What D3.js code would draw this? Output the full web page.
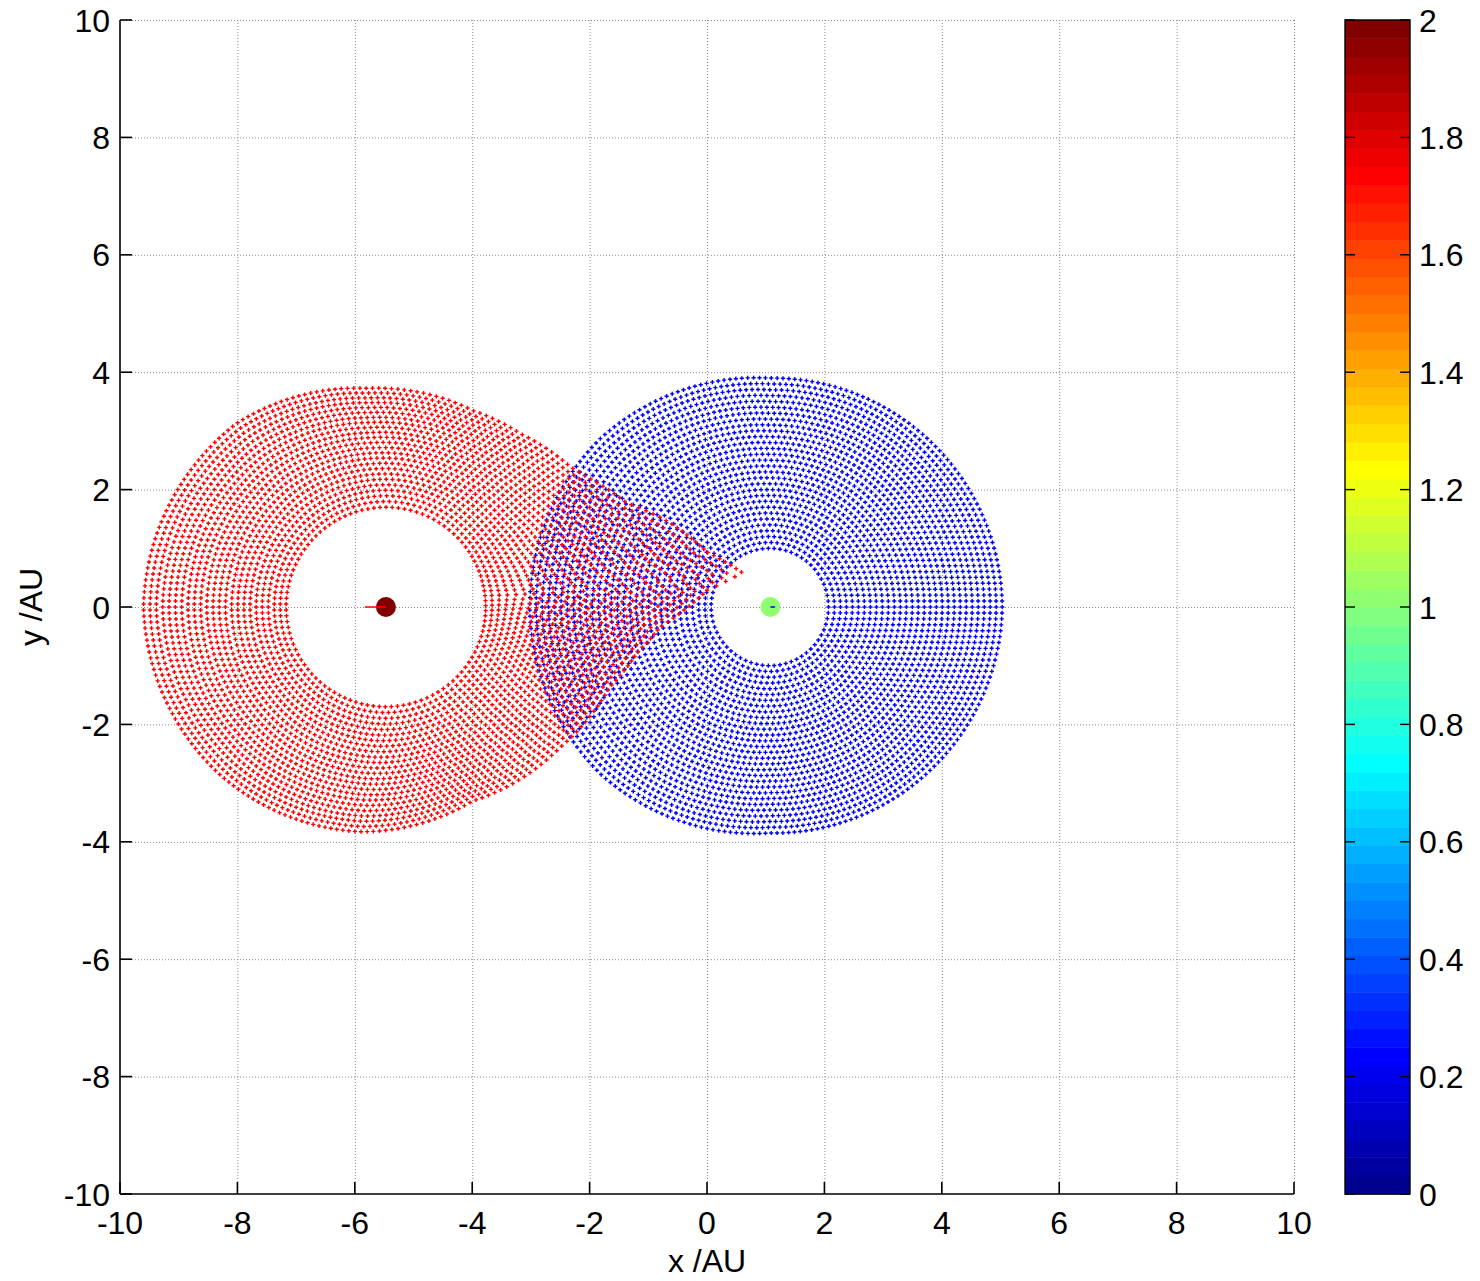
<!DOCTYPE html>
<html>
<head>
<meta charset="utf-8">
<script src="https://cdn.jsdelivr.net/npm/d3@7"></script>
<style>
body { margin: 0; background: #fff; }
svg { display: block; }
text { font-family: "Liberation Sans", Arial, sans-serif; fill: #000; }
</style>
</head>
<body>
<div id="showBox"></div>
<script>
// axes ticks
const xTicks = [-10, -8, -6, -4, -2, 0, 2, 4, 6, 8, 10]
const yTicks = [-10, -8, -6, -4, -2, 0, 2, 4, 6, 8, 10]
const cbTicks = [0, 0.2, 0.4, 0.6, 0.8, 1, 1.2, 1.4, 1.6, 1.8, 2]

// the two stars (mass drives the colour)
const starX = [-5.47, 1.08]
const starY = [0, 0]
const starMass = [2, 1]
const starVx = [-0.36, 0.08]

// blue disk: ring radii around its star, and its outer edge (angle deg, radius AU)
const blueCenter = [1.07, 0]
const blueRadii = [1.0, 1.1, 1.2, 1.3, 1.4, 1.5, 1.6, 1.7, 1.8, 1.9, 2.0, 2.1, 2.2, 2.3, 2.4, 2.5,
    2.6, 2.7, 2.8, 2.9, 3.0, 3.1, 3.2, 3.3, 3.4, 3.5, 3.6, 3.7, 3.8, 3.9]
const blueEdgeAngle = [-180, -135, -90, -45, 0, 45, 90, 135, 180]
const blueEdgeRadius = [4.09, 4.05, 3.85, 3.9, 3.96, 3.93, 3.9, 4.07, 4.09]

// red disk: ring radii before the tidal stretch
const redCenter = [-5.47, 0]
const redRadii = [1.7, 1.8, 1.9, 2.0, 2.1, 2.2, 2.3, 2.4, 2.5, 2.6, 2.7, 2.8, 2.9, 3.0, 3.1, 3.2,
    3.3, 3.4, 3.5, 3.6, 3.7, 3.8, 3.9, 4.0]
// outer edge of the stretched red disk (angle deg, radius AU)
const redEdgeAngle = [-180, -135, -96, -66, -39, -19.6, -10.3, -4.2, 3, 5.5, 9.7, 16.5, 23.3, 32.8, 37, 52, 66, 95, 129, 180]
const redEdgeRadius = [4.13, 4.02, 3.85, 3.62, 3.81, 4.05, 4.35, 4.68, 5.48, 6.1, 5.55, 5.05, 4.47, 4.08, 3.95, 3.74, 3.66, 3.74, 4.03, 4.13]
const pointSpacing = 0.1

const W = 1480, H = 1281
const margin = {left: 120, top: 20, right: 1294, bottom: 1194}

const x = d3.scaleLinear().domain([-10, 10]).range([margin.left, margin.right])
const y = d3.scaleLinear().domain([-10, 10]).range([margin.bottom, margin.top])
const cbY = d3.scaleLinear().domain([0, 2]).range([margin.bottom, margin.top])

function jet(t) {
    const c = v => Math.max(0, Math.min(1, v))
    const r = c(1.5 - Math.abs(4 * t - 3))
    const g = c(1.5 - Math.abs(4 * t - 2))
    const b = c(1.5 - Math.abs(4 * t - 1))
    return d3.rgb(r * 255, g * 255, b * 255).formatHex()
}
const nLevels = 64
const levelColor = v => {
    const i = Math.min(nLevels, Math.floor(v / 2 * nLevels) + 1)
    return jet(i / nLevels)
}

const wrapDeg = a => Math.atan2(Math.sin(a), Math.cos(a)) * 180 / Math.PI

// rings laid out between the inner ring and the read-off outer edge
function blueParticles() {
    const pts = []
    const edgeAt = d3.scaleLinear().domain(blueEdgeAngle).range(blueEdgeRadius)
    const r0 = blueRadii[0], r1 = blueRadii[blueRadii.length - 1]
    blueRadii.forEach(r => {
        const n = Math.round(2 * Math.PI * r / pointSpacing)
        const f = (r - r0) / (r1 - r0)
        for (let k = 0; k < n; k++) {
            const a = 2 * Math.PI * k / n
            const R = r0 + f * (edgeAt(wrapDeg(a)) - r0)
            pts.push({x: blueCenter[0] + R * Math.cos(a), y: blueCenter[1] + R * Math.sin(a)})
        }
    })
    return pts
}

function redParticles() {
    const pts = []
    const edgeAt = d3.scaleLinear().domain(redEdgeAngle).range(redEdgeRadius)
    const r0 = redRadii[0], r1 = redRadii[redRadii.length - 1]
    const tip = 5.5 * Math.PI / 180
    redRadii.forEach(r => {
        const n = Math.round(2 * Math.PI * r / pointSpacing)
        const f = (r - r0) / (r1 - r0)
        const g = Math.pow(f, 1.6)
        const squeeze = 0.15 + 0.4 * f
        for (let k = 0; k < n; k++) {
            const a = 2 * Math.PI * k / n
            const u = Math.atan2(Math.sin(a - tip), Math.cos(a - tip))
            const th = a - squeeze * Math.sin(u) * Math.exp(-u * u)
            const R = r + g * (edgeAt(wrapDeg(th)) - r1)
            pts.push({x: redCenter[0] + R * Math.cos(th), y: redCenter[1] + R * Math.sin(th)})
        }
    })
    return pts
}

const svg = d3.select("#showBox").append("svg").attr("width", W).attr("height", H)

// grid
const grid = svg.append("g").attr("stroke", "#8a8a8a").attr("stroke-width", 1)
    .attr("stroke-dasharray", "1,2")
grid.selectAll("line.gx").data(xTicks.slice(1)).join("line")
    .attr("x1", d => x(d) + 0.5).attr("x2", d => x(d) + 0.5)
    .attr("y1", margin.top).attr("y2", margin.bottom)
grid.selectAll("line.gy").data(yTicks.slice(1)).join("line")
    .attr("x1", margin.left).attr("x2", margin.right)
    .attr("y1", d => y(d) + 0.5).attr("y2", d => y(d) + 0.5)

// particles
const plus = 2.1
const drawPlus = d => `M${x(d.x) - plus},${y(d.y)}h${2 * plus}M${x(d.x)},${y(d.y) - plus}v${2 * plus}`

svg.append("g").attr("stroke", "#0000ff").attr("stroke-width", 1.4).attr("fill", "none")
    .selectAll("path").data(blueParticles()).join("path").attr("d", drawPlus)

svg.append("g").attr("stroke", "#ff0000").attr("stroke-width", 1.4).attr("fill", "none")
    .selectAll("path").data(redParticles()).join("path").attr("d", drawPlus)

// stars
const stars = starX.map((sx, i) => ({x: sx, y: starY[i], m: starMass[i], vx: starVx[i]}))
svg.append("g").selectAll("circle").data(stars).join("circle")
    .attr("cx", d => x(d.x)).attr("cy", d => y(d.y)).attr("r", 10)
    .attr("fill", d => levelColor(d.m))
svg.append("g").selectAll("line").data(stars).join("line")
    .attr("x1", d => x(d.x)).attr("x2", d => x(d.x + d.vx))
    .attr("y1", d => y(d.y)).attr("y2", d => y(d.y))
    .attr("stroke", (d, i) => i === 0 ? "#ff0000" : "#0000ff").attr("stroke-width", 1.5)

// axes
const axes = svg.append("g").attr("stroke", "#000").attr("stroke-width", 1.6)
axes.append("line").attr("x1", margin.left).attr("x2", margin.left).attr("y1", margin.top).attr("y2", margin.bottom)
axes.append("line").attr("x1", margin.left).attr("x2", margin.right).attr("y1", margin.bottom).attr("y2", margin.bottom)
axes.selectAll("line.tx").data(xTicks).join("line")
    .attr("x1", d => x(d)).attr("x2", d => x(d)).attr("y1", margin.bottom).attr("y2", margin.bottom - 12)
axes.selectAll("line.ty").data(yTicks).join("line")
    .attr("x1", margin.left).attr("x2", margin.left + 12).attr("y1", d => y(d)).attr("y2", d => y(d))

const fs = 32
svg.append("g").attr("font-size", fs).attr("text-anchor", "middle")
    .selectAll("text").data(xTicks).join("text")
    .attr("x", d => x(d)).attr("y", margin.bottom + 40).text(d => d)
svg.append("g").attr("font-size", fs).attr("text-anchor", "end")
    .selectAll("text").data(yTicks).join("text")
    .attr("x", margin.left - 10).attr("y", d => y(d)).attr("dy", "0.36em").text(d => d)

svg.append("text").attr("font-size", fs).attr("text-anchor", "middle")
    .attr("x", x(0)).attr("y", 1272).text("x /AU")
svg.append("text").attr("font-size", fs).attr("text-anchor", "middle")
    .attr("transform", `translate(42,${y(0)}) rotate(-90)`).text("y /AU")

// colorbar
const cbX0 = 1345, cbX1 = 1410
const levels = d3.range(nLevels)
svg.append("g").selectAll("rect").data(levels).join("rect")
    .attr("x", cbX0).attr("width", cbX1 - cbX0)
    .attr("y", i => cbY((i + 1) * 2 / nLevels))
    .attr("height", i => cbY(i * 2 / nLevels) - cbY((i + 1) * 2 / nLevels) + 0.5)
    .attr("fill", i => jet((i + 1) / nLevels))
svg.append("rect").attr("x", cbX0).attr("y", margin.top).attr("width", cbX1 - cbX0)
    .attr("height", margin.bottom - margin.top).attr("fill", "none").attr("stroke", "#000").attr("stroke-width", 1.4)
const cbt = svg.append("g").attr("stroke", "#000").attr("stroke-width", 1.4)
cbt.selectAll("line.l").data(cbTicks).join("line")
    .attr("x1", cbX0).attr("x2", cbX0 + 10).attr("y1", d => cbY(d)).attr("y2", d => cbY(d))
cbt.selectAll("line.r").data(cbTicks).join("line")
    .attr("x1", cbX1 - 10).attr("x2", cbX1).attr("y1", d => cbY(d)).attr("y2", d => cbY(d))
svg.append("g").attr("font-size", fs)
    .selectAll("text").data(cbTicks).join("text")
    .attr("x", cbX1 + 9).attr("y", d => cbY(d)).attr("dy", "0.36em")
    .text(d => d3.format("~g")(d))
</script>
</body>
</html>
